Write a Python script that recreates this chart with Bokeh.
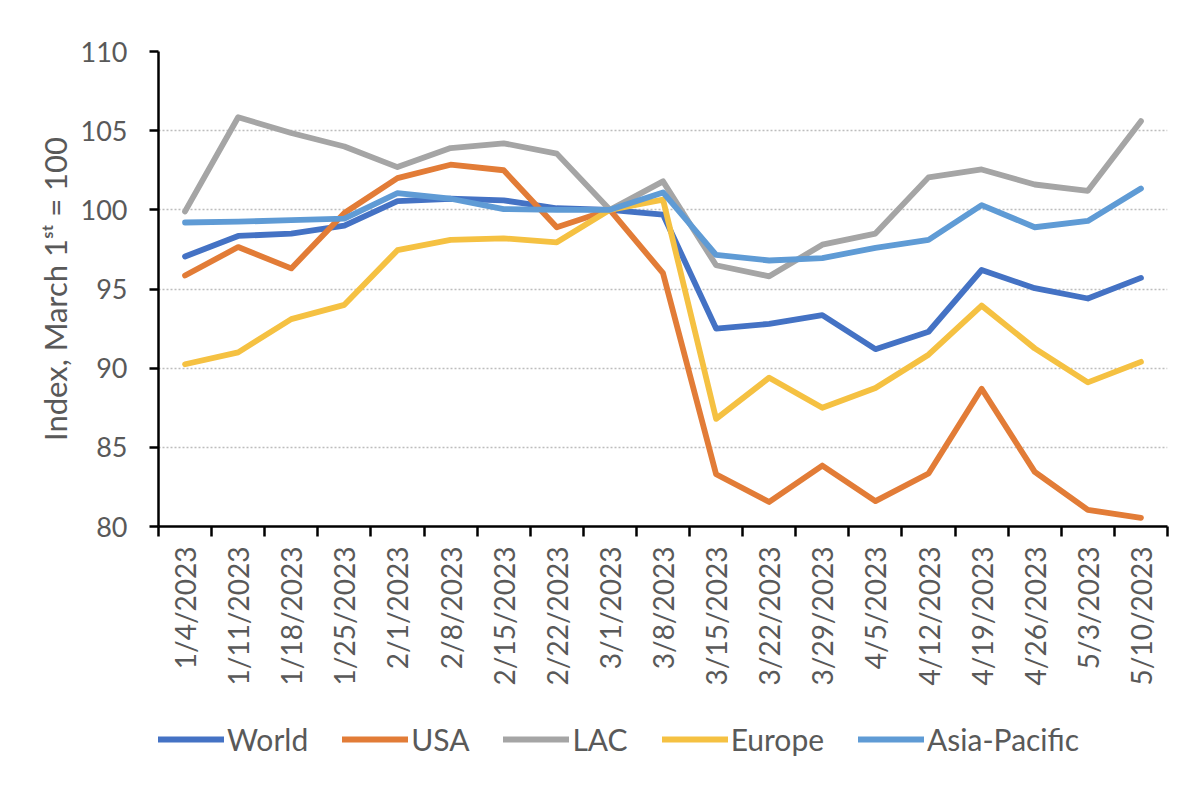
import math
from bokeh.plotting import figure
from bokeh.layouts import column
from bokeh.models import FixedTicker, Legend, LegendItem
from bokeh.embed import file_html
from bokeh.resources import INLINE

dates = ["1/4/2023", "1/11/2023", "1/18/2023", "1/25/2023", "2/1/2023", "2/8/2023",
         "2/15/2023", "2/22/2023", "3/1/2023", "3/8/2023", "3/15/2023", "3/22/2023",
         "3/29/2023", "4/5/2023", "4/12/2023", "4/19/2023", "4/26/2023", "5/3/2023",
         "5/10/2023"]

world = [97.05, 98.35, 98.5, 99.0, 100.55, 100.7, 100.6, 100.1, 100.0, 99.7,
         92.5, 92.8, 93.35, 91.2, 92.3, 96.2, 95.05, 94.4, 95.7]
usa = [95.85, 97.65, 96.3, 99.8, 102.0, 102.85, 102.5, 98.9, 100.0, 96.0,
       83.3, 81.55, 83.85, 81.6, 83.35, 88.7, 83.45, 81.05, 80.55]
lac = [99.9, 105.85, 104.85, 104.0, 102.7, 103.9, 104.2, 103.55, 100.0, 101.8,
       96.5, 95.8, 97.8, 98.5, 102.05, 102.55, 101.6, 101.2, 105.6]
europe = [90.25, 91.0, 93.1, 94.0, 97.45, 98.1, 98.2, 97.95, 100.0, 100.65,
          86.8, 89.4, 87.5, 88.75, 90.85, 93.95, 91.25, 89.1, 90.4]
asia_pacific = [99.2, 99.25, 99.35, 99.45, 101.05, 100.7, 100.05, 100.0, 100.0, 101.1,
                97.15, 96.8, 96.95, 97.6, 98.1, 100.3, 98.9, 99.3, 101.35]

series_names = ["World", "USA", "LAC", "Europe", "Asia-Pacific"]
series_values = [world, usa, lac, europe, asia_pacific]
series_colors = ["#4472C4", "#E27C37", "#A5A5A5", "#F5C142", "#5F9BD5"]

y_ticks = [80, 85, 90, 95, 100, 105, 110]

FONT = "Lato"
TXT = "#595959"

x = list(range(len(dates)))

p = figure(frame_width=1009, frame_height=475, output_backend="svg", toolbar_location=None,
           x_range=(-0.5, len(dates) - 0.5), y_range=(80, 110),
           min_border_left=158, min_border_right=17, min_border_top=51,
           min_border_bottom=0)
p.outline_line_color = None
p.background_fill_color = "white"
p.border_fill_color = "white"

p.xgrid.visible = False
p.ygrid.grid_line_color = "#BDBDBD"
p.ygrid.grid_line_dash = "2 2"
p.ygrid.grid_line_width = 1.5

# y axis
p.yaxis.ticker = FixedTicker(ticks=y_ticks)
p.yaxis.axis_line_color = "black"
p.yaxis.axis_line_width = 2.5
p.yaxis.major_tick_line_color = "black"
p.yaxis.major_tick_line_width = 2.5
p.yaxis.major_tick_out = 9
p.yaxis.major_tick_in = 0
p.yaxis.minor_tick_line_color = None
p.yaxis.major_label_text_font = FONT
p.yaxis.major_label_text_font_size = "27px"
p.yaxis.major_label_text_color = TXT
p.yaxis.major_label_standoff = 22
p.yaxis.axis_label = "Index, March 1\u02e2\u1d57 = 100"
p.yaxis.axis_label_text_font = FONT
p.yaxis.axis_label_text_font_size = "31px"
p.yaxis.axis_label_text_font_style = "normal"
p.yaxis.axis_label_text_color = TXT
p.yaxis.axis_label_standoff = 4

# x axis: labels at category centres, tick marks at category boundaries
p.xaxis.ticker = FixedTicker(ticks=x, minor_ticks=[i - 0.5 for i in range(len(dates) + 1)])
p.xaxis.major_label_overrides = {i: d for i, d in enumerate(dates)}
p.xaxis.major_label_orientation = math.pi / 2
p.xaxis.axis_line_color = "black"
p.xaxis.axis_line_width = 2.5
p.xaxis.major_tick_line_color = None
p.xaxis.major_tick_out = 10
p.xaxis.major_tick_in = 0
p.xaxis.minor_tick_line_color = "black"
p.xaxis.minor_tick_line_width = 2.5
p.xaxis.minor_tick_out = 10
p.xaxis.minor_tick_in = 0
p.xaxis.major_label_text_font = FONT
p.xaxis.major_label_text_font_size = "28px"
p.xaxis.major_label_text_color = TXT
p.xaxis.major_label_standoff = 10

for vals, col in zip(series_values, series_colors):
    p.line(x, vals, line_color=col, line_width=5.8, line_cap="round", line_join="round")

# legend strip below the chart (same series, drawn outside its visible range)
pl = figure(width=1184, height=90, output_backend="svg", toolbar_location=None,
            x_range=(1000, 1001), y_range=(1000, 1001),
            x_axis_location=None, y_axis_location=None,
            min_border_left=0, min_border_right=0, min_border_top=0, min_border_bottom=0)
pl.outline_line_color = None
pl.grid.visible = False
pl.background_fill_color = "white"
pl.border_fill_color = "white"

items = []
for name, vals, col in zip(series_names, series_values, series_colors):
    r = pl.line(x, vals, line_color=col, line_width=5.8, line_cap="round")
    items.append(LegendItem(label=name, renderers=[r]))

legend = Legend(items=items, orientation="horizontal", location=(0, 21))
legend.label_text_font = FONT
legend.label_text_font_size = "30px"
legend.label_text_color = TXT
legend.glyph_width = 66
legend.glyph_height = 20
legend.label_standoff = 3
legend.spacing = 34
legend.border_line_color = None
legend.background_fill_alpha = 0
legend.margin = 0
legend.padding = 0
pl.add_layout(legend, "center")

layout = column(p, pl, spacing=0)
open("out.html", "w").write(file_html(layout, INLINE))
